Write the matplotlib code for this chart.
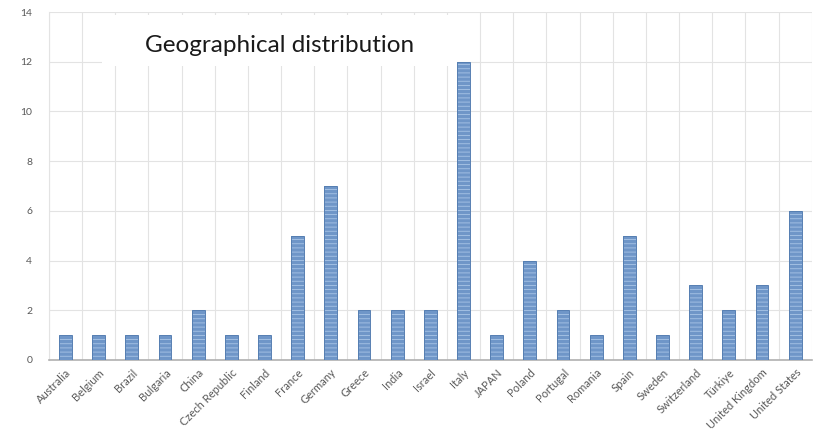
import matplotlib.pyplot as plt
import numpy as np
from matplotlib.patches import Rectangle

countries = [
    "Australia", "Belgium", "Brazil", "Bulgaria", "China", "Czech Republic",
    "Finland", "France", "Germany", "Greece", "India", "Israel", "Italy",
    "JAPAN", "Poland", "Portugal", "Romania", "Spain", "Sweden",
    "Switzerland", "Türkiye", "United Kingdom", "United States",
]
counts = [1, 1, 1, 1, 2, 1, 1, 5, 7, 2, 2, 2, 12, 1, 4, 2, 1, 5, 1, 3, 2, 3, 6]
y_ticks = [0, 2, 4, 6, 8, 10, 12, 14]

plt.rcParams["font.family"] = ["Lato", "DejaVu Sans"]
plt.rcParams["hatch.linewidth"] = 0.6

fig = plt.figure(figsize=(8.15, 4.32), dpi=100)
ax = fig.add_axes([0.060, 0.1667, 0.936, 0.8055])

x = np.arange(len(countries))
# striped fill, then a darker outline on top
ax.bar(x, counts, width=0.39, color="#6f96c8", edgecolor="#a9c5e7",
       hatch="----", linewidth=0, zorder=3)
ax.bar(x, counts, width=0.39, fill=False, edgecolor="#567fb2",
       linewidth=0.7, zorder=4)

ax.set_xlim(-0.5, len(countries) - 0.5)
ax.set_ylim(0, 14)
ax.set_yticks(y_ticks)
ax.set_xticks(x)
ax.set_xticklabels(countries, rotation=45, ha="right", rotation_mode="anchor")
ax.set_xticks(np.arange(-0.5, len(countries)), minor=True)

ax.grid(True, axis="y", color="#e3e3e3", linewidth=0.8, zorder=0)
ax.grid(True, axis="x", which="minor", color="#e3e3e3", linewidth=0.8, zorder=0)
ax.grid(False, axis="x", which="major")
ax.tick_params(axis="both", which="both", length=0, colors="#595959")
ax.tick_params(axis="x", labelsize=8, pad=5)
ax.tick_params(axis="y", labelsize=7.5, pad=12)

for side in ["top", "right"]:
    ax.spines[side].set_visible(False)
ax.spines["left"].set_color("#e3e3e3")
ax.spines["left"].set_linewidth(0.8)
ax.spines["bottom"].set_color("#b0b0b0")
ax.spines["bottom"].set_linewidth(1.2)

# white title panel sitting over the grid
ax.add_patch(Rectangle((0.069, 0.845), 0.466, 0.145, transform=ax.transAxes,
                       facecolor="white", edgecolor="none", zorder=2))
ax.text(0.126, 0.905, "Geographical distribution", transform=ax.transAxes,
        fontsize=17.5, color="#1a1a1a", va="center", ha="left", zorder=5)

fig.savefig("out.png", dpi=100)
